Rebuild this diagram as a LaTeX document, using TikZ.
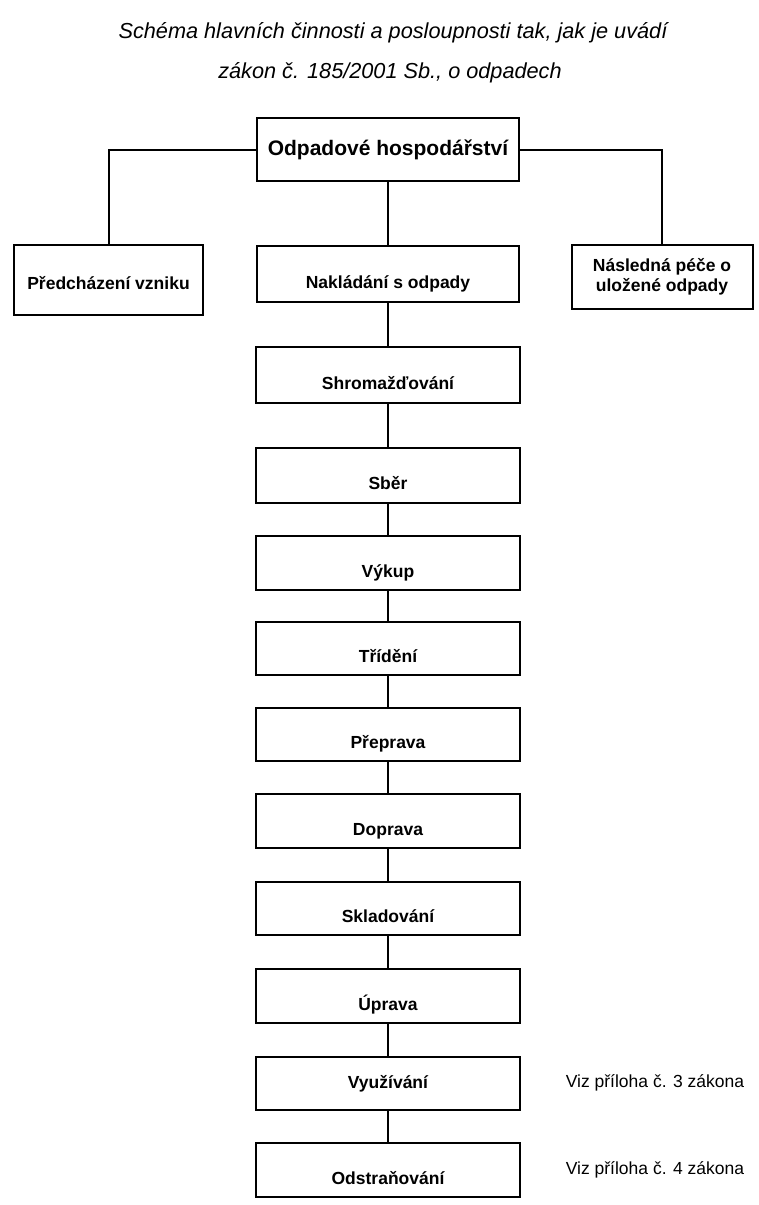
\documentclass[tikz,border=0pt]{standalone}
\usepackage{fontspec}
\setmainfont{Liberation Sans}
\usetikzlibrary{positioning}

\tikzset{
  boxbase/.style={draw,line width=2pt,minimum width=264pt,minimum height=54pt,font=\fontsize{17.5}{20}\selectfont\bfseries,align=center,inner sep=2pt},
  box/.style={boxbase,text height=32.6pt,text depth=4pt},
  link/.style={line width=2pt},
  note/.style={font=\fontsize{17.5}{20}\selectfont}
}

\begin{document}
\begin{tikzpicture}[x=1pt,y=-1pt]
\useasboundingbox (0,0) rectangle (758,1205);
% title
\node[font=\fontsize{21.7}{25}\selectfont\itshape] (title1) at (393,33) {Schéma hlavních činnosti a posloupnosti tak, jak je uvádí};
\node[font=\fontsize{21.7}{25}\selectfont\itshape] (title2) at (390,73) {zákon č. 185/2001 Sb., o odpadech};
% top level
\node[boxbase,minimum width=262pt,minimum height=63pt,font=\fontsize{21}{25}\selectfont\bfseries,text height=15pt,text depth=4pt] (hosp) at (388,149.5) {Odpadové hospodářství};
\node[box,minimum width=189pt,minimum height=70pt,text height=22.6pt] (predch) at (108.5,280) {Předcházení vzniku};
\node[box,minimum width=262pt,minimum height=56pt] (naklad) at (388,274) {Nakládání s odpady};
\node[boxbase,minimum width=181pt,minimum height=64pt] (pece) at (662,277) {Následná péče o\\uložené odpady};
% chain of activities
\node[box,minimum height=56pt] (shrom) at (388,375) {Shromažďování};
\node[box,minimum height=55pt] (sber) at (388,475.5) {Sběr};
\node[box] (vykup) at (388,563) {Výkup};
\node[box,minimum height=53pt] (trid) at (388,648.5) {Třídění};
\node[box,minimum height=53pt] (prepr) at (388,734.5) {Přeprava};
\node[box] (dopr) at (388,821) {Doprava};
\node[box,minimum height=53pt] (sklad) at (388,908.5) {Skladování};
\node[box] (uprava) at (388,996) {Úprava};
\node[boxbase,minimum height=53pt] (vyuz) at (388,1083.5) {Využívání};
\node[box] (odstr) at (388,1170) {Odstraňování};
% notes
\node[note] (pril3) at (655,1083) {Viz příloha č. 3 zákona};
\node[note] (pril4) at (655,1170) {Viz příloha č. 4 zákona};
% connectors
\draw[link] (hosp.west) -| (predch.north);
\draw[link] (hosp.east) -| (pece.north);
\draw[link] (hosp) -- (naklad);
\draw[link] (naklad) -- (shrom);
\draw[link] (shrom) -- (sber);
\draw[link] (sber) -- (vykup);
\draw[link] (vykup) -- (trid);
\draw[link] (trid) -- (prepr);
\draw[link] (prepr) -- (dopr);
\draw[link] (dopr) -- (sklad);
\draw[link] (sklad) -- (uprava);
\draw[link] (uprava) -- (vyuz);
\draw[link] (vyuz) -- (odstr);
\end{tikzpicture}
\end{document}
